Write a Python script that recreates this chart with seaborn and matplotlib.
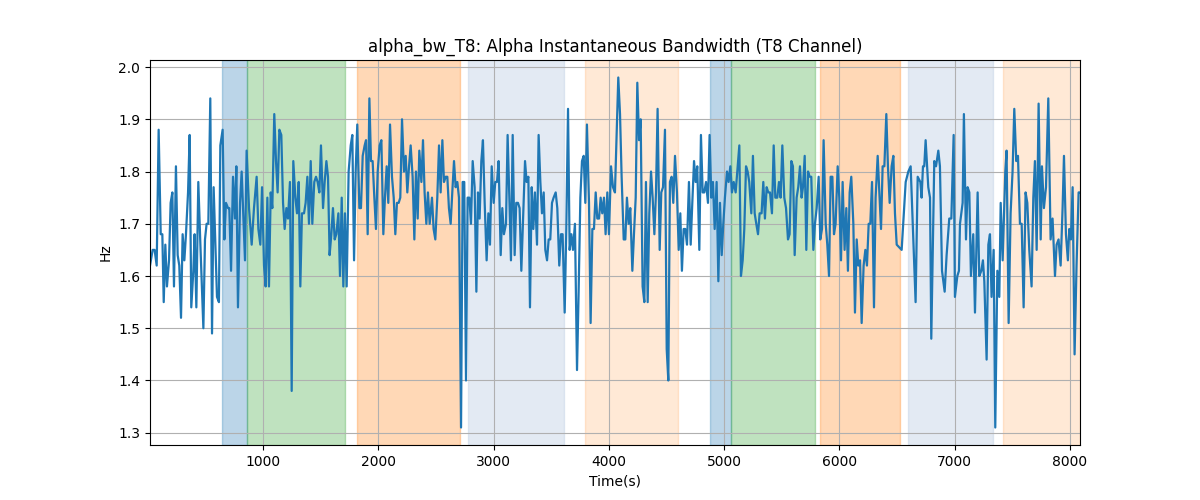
import numpy as np
import matplotlib
matplotlib.use("Agg")
import matplotlib.pyplot as plt
import seaborn as sns

# ── Data ────────────────────────────────────────────────
time_s = [
    20, 43, 60, 78, 95, 113, 127, 139, 153, 167, 185, 199, 214, 228, 245, 260, 274, 289, 303, 318,
    332, 350, 364, 378, 396, 407, 422, 439, 457, 483, 497, 511, 526, 543, 558, 572, 587, 601, 618, 630,
    650, 665, 679, 697, 708, 723, 740, 757, 769, 783, 801, 815, 844,
    858, 879, 902, 922, 945, 960, 977, 992, 1009, 1023, 1038, 1052, 1067, 1081, 1098, 1113, 1127, 1142, 1159, 1174,
    1188, 1203, 1217, 1234, 1249, 1263, 1281, 1295, 1310, 1324, 1338, 1356, 1370, 1385, 1399, 1414, 1428, 1445, 1460, 1474,
    1489, 1503, 1521, 1535, 1550, 1564, 1578, 1593, 1607, 1622, 1636,
    1654, 1668, 1683, 1697, 1711, 1726, 1743, 1761, 1775, 1790, 1804, 1818, 1836, 1850, 1865, 1882, 1894, 1908, 1923, 1937,
    1951, 1966, 1980, 1995, 2012, 2027, 2044, 2058, 2073, 2087, 2102, 2119, 2134, 2148, 2162, 2177, 2191, 2206, 2223, 2238,
    2252, 2267, 2281, 2298, 2313, 2327, 2342, 2356, 2374, 2388, 2402, 2417, 2431, 2446,
    2466, 2480, 2495, 2512, 2527, 2541, 2556, 2570, 2585, 2599, 2613, 2628, 2642, 2657, 2671, 2686, 2700, 2718, 2732, 2746,
    2761, 2775, 2790, 2804, 2819, 2836, 2851, 2865, 2879, 2894, 2908, 2923, 2940, 2955, 2969, 2984, 3001, 3015, 3030, 3044,
    3062, 3076, 3090, 3108, 3122, 3137, 3151, 3166, 3183, 3197, 3212, 3226, 3241,
    3273, 3287, 3302, 3316, 3331, 3345, 3359, 3377, 3391, 3406, 3420, 3435, 3449, 3464, 3478, 3492, 3507, 3521, 3539, 3553,
    3570, 3585, 3599, 3617, 3631, 3646, 3660, 3675, 3689, 3706, 3724, 3738, 3753, 3767, 3782, 3796, 3810, 3828, 3842, 3857,
    3871, 3886, 3900, 3915, 3929, 3943, 3958, 3972, 3987, 4001, 4019, 4036,
    4053, 4082, 4097, 4111, 4129, 4143, 4157, 4172, 4186, 4204, 4218, 4233, 4247, 4262, 4276, 4293, 4308, 4322, 4337, 4351,
    4366, 4380, 4395, 4409, 4423, 4441, 4455, 4470, 4487, 4502, 4516, 4530, 4545, 4559, 4574, 4591, 4606, 4620, 4634, 4649,
    4663, 4678, 4695, 4710, 4724, 4739, 4753, 4767, 4785, 4799, 4814, 4828, 4843, 4860,
    4874, 4889, 4903, 4918, 4935, 4950, 4964, 4979, 4993, 5007, 5025, 5039, 5054, 5068, 5083, 5100, 5114, 5132, 5146, 5161,
    5175, 5190, 5204, 5218, 5236, 5250, 5265, 5279, 5294, 5308, 5325, 5340, 5354, 5369, 5383, 5398, 5415, 5430, 5444, 5461,
    5476, 5490, 5505, 5522, 5537, 5554, 5568, 5583, 5597, 5612, 5629, 5643, 5658, 5672,
    5684, 5699, 5713, 5728, 5742, 5756, 5774, 5788, 5803, 5820, 5834, 5849, 5863, 5881, 5895, 5910, 5924, 5939, 5953, 5967,
    5985, 5999, 6014, 6028, 6045, 6060, 6074, 6089, 6103, 6121, 6135, 6150, 6164, 6179, 6193, 6210, 6225, 6239, 6254, 6268,
    6283, 6300, 6314, 6332, 6361, 6375, 6390, 6407, 6421, 6436, 6453, 6468,
    6482, 6497, 6540, 6575, 6598, 6618, 6661, 6679, 6702, 6713, 6725, 6736, 6748, 6771, 6786, 6797, 6823, 6838, 6858, 6872,
    6890, 6913, 6930, 6953, 6971, 6991, 7002, 7023, 7037, 7046, 7069, 7080, 7098, 7112, 7127, 7141, 7161, 7176, 7199, 7213,
    7231, 7245, 7257, 7277, 7292, 7306, 7320, 7338, 7352, 7370, 7387, 7399, 7416, 7439, 7450, 7468, 7485, 7502, 7517, 7534,
    7549, 7566, 7581, 7598, 7615, 7630, 7647, 7667, 7682, 7696, 7711, 7728, 7746, 7757, 7774, 7792, 7812, 7832, 7849, 7870,
    7884, 7901, 7919, 7936, 7948, 7965, 7982, 7994, 8008, 8023, 8040, 8057, 8075, 8087,
]

alpha_bw = [
    1.62, 1.65, 1.65, 1.62, 1.88, 1.68, 1.68, 1.55, 1.66, 1.58, 1.63, 1.74, 1.76, 1.58, 1.81, 1.64, 1.62, 1.52, 1.68, 1.63,
    1.68, 1.76, 1.87, 1.54, 1.61, 1.68, 1.54, 1.78, 1.66, 1.50, 1.67, 1.70, 1.70, 1.94, 1.49, 1.77, 1.66, 1.56, 1.55, 1.85,
    1.88, 1.67, 1.74, 1.73, 1.73, 1.61, 1.79, 1.71, 1.81, 1.54, 1.74, 1.80, 1.63,
    1.84, 1.73, 1.66, 1.73, 1.79, 1.69, 1.66, 1.77, 1.62, 1.58, 1.75, 1.58, 1.76, 1.73, 1.91, 1.82, 1.76, 1.88, 1.87, 1.74,
    1.69, 1.73, 1.71, 1.78, 1.38, 1.82, 1.75, 1.72, 1.78, 1.58, 1.72, 1.72, 1.74, 1.79, 1.70, 1.82, 1.70, 1.78, 1.79, 1.78,
    1.76, 1.85, 1.73, 1.78, 1.82, 1.79, 1.64, 1.68, 1.73, 1.67, 1.68,
    1.72, 1.60, 1.75, 1.58, 1.72, 1.58, 1.80, 1.85, 1.87, 1.63, 1.80, 1.89, 1.73, 1.73, 1.83, 1.85, 1.86, 1.68, 1.94, 1.82,
    1.82, 1.75, 1.69, 1.80, 1.85, 1.86, 1.68, 1.75, 1.81, 1.74, 1.89, 1.79, 1.75, 1.68, 1.74, 1.74, 1.75, 1.90, 1.80, 1.83,
    1.76, 1.81, 1.85, 1.79, 1.67, 1.80, 1.71, 1.84, 1.78, 1.86, 1.76, 1.70, 1.76, 1.70,
    1.75, 1.69, 1.67, 1.75, 1.85, 1.76, 1.86, 1.78, 1.79, 1.79, 1.73, 1.70, 1.76, 1.82, 1.77, 1.78, 1.75, 1.31, 1.78, 1.78,
    1.40, 1.75, 1.75, 1.70, 1.82, 1.77, 1.57, 1.76, 1.71, 1.82, 1.86, 1.74, 1.63, 1.72, 1.66, 1.81, 1.74, 1.78, 1.78, 1.82,
    1.64, 1.73, 1.68, 1.70, 1.87, 1.75, 1.63, 1.87, 1.64, 1.74, 1.74, 1.73, 1.61,
    1.82, 1.78, 1.79, 1.54, 1.77, 1.69, 1.76, 1.66, 1.87, 1.78, 1.72, 1.76, 1.65, 1.63, 1.67, 1.67, 1.74, 1.75, 1.76, 1.73,
    1.62, 1.68, 1.68, 1.53, 1.69, 1.92, 1.65, 1.68, 1.65, 1.70, 1.42, 1.57, 1.75, 1.82, 1.83, 1.74, 1.89, 1.74, 1.51, 1.69,
    1.69, 1.76, 1.71, 1.71, 1.75, 1.72, 1.75, 1.68, 1.76, 1.68, 1.81, 1.77,
    1.76, 1.98, 1.91, 1.79, 1.67, 1.67, 1.75, 1.70, 1.73, 1.61, 1.68, 1.75, 1.97, 1.86, 1.90, 1.58, 1.55, 1.78, 1.55, 1.72,
    1.80, 1.75, 1.68, 1.76, 1.92, 1.65, 1.76, 1.77, 1.88, 1.46, 1.40, 1.78, 1.79, 1.74, 1.83, 1.76, 1.65, 1.72, 1.61, 1.69,
    1.69, 1.66, 1.78, 1.66, 1.74, 1.82, 1.78, 1.81, 1.65, 1.87, 1.76, 1.76, 1.78, 1.74,
    1.87, 1.75, 1.78, 1.69, 1.78, 1.59, 1.74, 1.64, 1.70, 1.75, 1.80, 1.78, 1.81, 1.76, 1.78, 1.76, 1.80, 1.85, 1.60, 1.63,
    1.69, 1.81, 1.80, 1.78, 1.72, 1.83, 1.72, 1.70, 1.68, 1.72, 1.72, 1.78, 1.71, 1.77, 1.76, 1.76, 1.72, 1.85, 1.75, 1.75,
    1.78, 1.75, 1.85, 1.75, 1.73, 1.67, 1.68, 1.82, 1.81, 1.64, 1.75, 1.77, 1.81, 1.75,
    1.77, 1.83, 1.65, 1.80, 1.79, 1.79, 1.65, 1.70, 1.73, 1.79, 1.67, 1.69, 1.86, 1.70, 1.66, 1.60, 1.79, 1.79, 1.68, 1.70,
    1.81, 1.75, 1.63, 1.78, 1.65, 1.73, 1.61, 1.76, 1.79, 1.70, 1.53, 1.67, 1.62, 1.63, 1.51, 1.62, 1.65, 1.62, 1.70, 1.70,
    1.78, 1.54, 1.75, 1.83, 1.69, 1.81, 1.81, 1.91, 1.81, 1.74, 1.81, 1.83,
    1.72, 1.66, 1.65, 1.78, 1.80, 1.81, 1.55, 1.79, 1.78, 1.75, 1.81, 1.81, 1.86, 1.77, 1.75, 1.48, 1.82, 1.81, 1.84, 1.81,
    1.61, 1.57, 1.64, 1.71, 1.71, 1.87, 1.56, 1.60, 1.61, 1.70, 1.74, 1.91, 1.67, 1.77, 1.76, 1.60, 1.68, 1.53, 1.76, 1.60,
    1.61, 1.63, 1.59, 1.44, 1.66, 1.68, 1.56, 1.65, 1.31, 1.61, 1.56, 1.74, 1.63, 1.80, 1.84, 1.51, 1.72, 1.80, 1.92, 1.82,
    1.83, 1.70, 1.70, 1.54, 1.76, 1.74, 1.65, 1.58, 1.75, 1.82, 1.65, 1.93, 1.67, 1.81, 1.73, 1.77, 1.94, 1.67, 1.71, 1.60,
    1.66, 1.67, 1.62, 1.73, 1.83, 1.68, 1.63, 1.69, 1.67, 1.77, 1.45, 1.62, 1.76, 1.76,
]

# shaded segments (start, end, colour, alpha)
span_start = [645, 861, 1815, 2778, 3793, 4877, 5060, 5832, 6595, 7419]
span_end = [861, 1711, 2709, 3611, 4600, 5060, 5788, 6526, 7332, 8087]
span_color = ["tab:blue", "tab:green", "tab:orange", "lightsteelblue", "tab:orange",
              "tab:blue", "tab:green", "tab:orange", "lightsteelblue", "tab:orange"]
span_alpha = [0.3, 0.3, 0.3, 0.35, 0.17, 0.3, 0.3, 0.3, 0.35, 0.17]

# ── Plot ────────────────────────────────────────────────
fig, ax = plt.subplots(figsize=(12, 5), dpi=100)

for s, e, c, a in zip(span_start, span_end, span_color, span_alpha):
    ax.axvspan(s, e, color=c, alpha=a)

sns.lineplot(x=time_s, y=alpha_bw, ax=ax, color="tab:blue", linewidth=1.6)

ax.set_xlim(time_s[0], time_s[-1])
ax.grid(True)
ax.set_title("alpha_bw_T8: Alpha Instantaneous Bandwidth (T8 Channel)")
ax.set_xlabel("Time(s)")
ax.set_ylabel("Hz")

plt.savefig("out.png", dpi=100)
plt.close()
